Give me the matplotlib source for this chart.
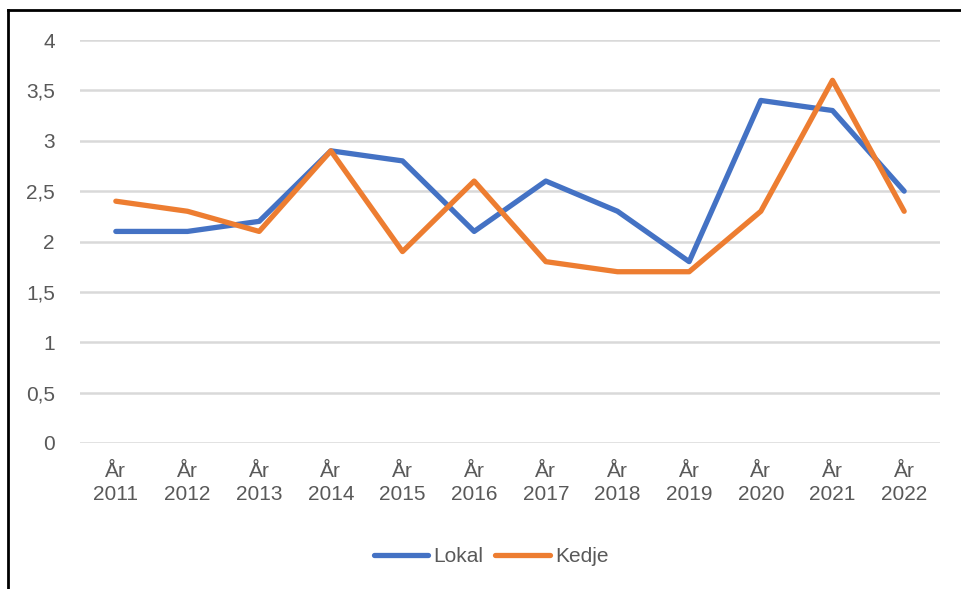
import matplotlib
matplotlib.use("Agg")
import matplotlib.pyplot as plt
from matplotlib.lines import Line2D

years = ["2011", "2012", "2013", "2014", "2015", "2016", "2017", "2018", "2019", "2020", "2021", "2022"]
tick_labels = ["År\n" + y for y in years]
lokal = [2.1, 2.1, 2.2, 2.9, 2.8, 2.1, 2.6, 2.3, 1.8, 3.4, 3.3, 2.5]
kedje = [2.4, 2.3, 2.1, 2.9, 1.9, 2.6, 1.8, 1.7, 1.7, 2.3, 3.6, 2.3]
yticks = [0, 0.5, 1, 1.5, 2, 2.5, 3, 3.5, 4]
ytick_labels = ["0", "0,5", "1", "1,5", "2", "2,5", "3", "3,5", "4"]

plt.rcParams['font.family'] = ['Liberation Sans', 'DejaVu Sans']

W, H = 961, 589
fig = plt.figure(figsize=(W / 100, H / 100), dpi=100)
ax = fig.add_axes([80 / W, 1 - 443 / H, 860 / W, 403 / H])

x = list(range(len(years)))
ax.plot(x, lokal, color="#4472C4", lw=3.8, solid_capstyle="round", solid_joinstyle="round", label="Lokal", zorder=3)
ax.plot(x, kedje, color="#ED7D31", lw=3.8, solid_capstyle="round", solid_joinstyle="round", label="Kedje", zorder=3)

ax.set_xlim(-0.5, len(years) - 0.5)
ax.set_ylim(0, 4)
ax.set_yticks(yticks)
ax.set_yticklabels(ytick_labels)
ax.set_xticks(x)
ax.set_xticklabels(tick_labels, linespacing=1.25)
ax.grid(axis="y", color="#D9D9D9", lw=1.8, zorder=0)
ax.set_axisbelow(True)
for s in ax.spines.values():
    s.set_visible(False)
ax.tick_params(axis="both", length=0, labelsize=15, labelcolor="#595959")
ax.tick_params(axis="x", pad=14)
ax.tick_params(axis="y", pad=18)

handles = [Line2D([0], [0], color="#4472C4", lw=3.8, solid_capstyle="round"),
           Line2D([0], [0], color="#ED7D31", lw=3.8, solid_capstyle="round")]
leg = fig.legend(handles, ["Lokal", "Kedje"], loc="center", bbox_to_anchor=(491 / W, 1 - 557 / H),
                 ncol=2, frameon=False, fontsize=15, handlelength=2.6, handletextpad=0.25, columnspacing=0.6)
for t in leg.get_texts():
    t.set_color("#595959")

# outer frame (top and left edges only visible)
fig.add_artist(Line2D([8 / W, 1], [1 - 10 / H, 1 - 10 / H], color="black", lw=2, transform=fig.transFigure))
fig.add_artist(Line2D([8 / W, 8 / W], [0, 1 - 10 / H], color="black", lw=2, transform=fig.transFigure))

fig.savefig("out.png", dpi=100)
